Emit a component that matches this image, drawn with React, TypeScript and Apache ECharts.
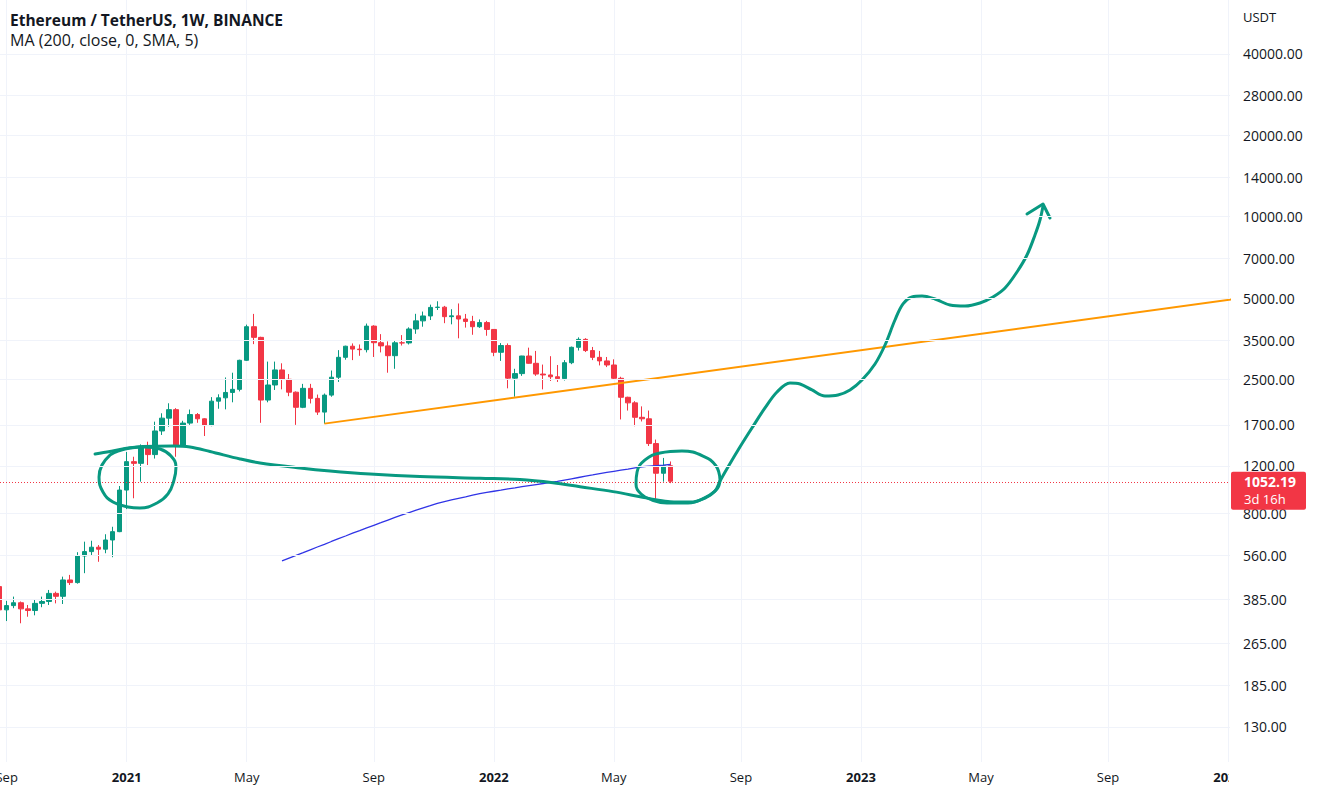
import React, { useEffect, useRef } from 'react';
import * as echarts from 'echarts';

// ---------- data ----------
const WEEKS = [
  '2020-08-31','2020-09-07','2020-09-14','2020-09-21','2020-09-28','2020-10-05','2020-10-12','2020-10-19','2020-10-26',
  '2020-11-02','2020-11-09','2020-11-16','2020-11-23','2020-11-30','2020-12-07','2020-12-14','2020-12-21','2020-12-28',
  '2021-01-04','2021-01-11','2021-01-18','2021-01-25','2021-02-01','2021-02-08','2021-02-15','2021-02-22','2021-03-01',
  '2021-03-08','2021-03-15','2021-03-22','2021-03-29','2021-04-05','2021-04-12','2021-04-19','2021-04-26','2021-05-03',
  '2021-05-10','2021-05-17','2021-05-24','2021-05-31','2021-06-07','2021-06-14','2021-06-21','2021-06-28','2021-07-05',
  '2021-07-12','2021-07-19','2021-07-26','2021-08-02','2021-08-09','2021-08-16','2021-08-23','2021-08-30','2021-09-06',
  '2021-09-13','2021-09-20','2021-09-27','2021-10-04','2021-10-11','2021-10-18','2021-10-25','2021-11-01','2021-11-08',
  '2021-11-15','2021-11-22','2021-11-29','2021-12-06','2021-12-13','2021-12-20','2021-12-27','2022-01-03','2022-01-10',
  '2022-01-17','2022-01-24','2022-01-31','2022-02-07','2022-02-14','2022-02-21','2022-02-28','2022-03-07','2022-03-14',
  '2022-03-21','2022-03-28','2022-04-04','2022-04-11','2022-04-18','2022-04-25','2022-05-02','2022-05-09','2022-05-16',
  '2022-05-23','2022-05-30','2022-06-06','2022-06-13','2022-06-20','2022-06-27'
];
const OPEN = [
  429,352,365,374,355,350,372,378,405,395,454,444,557,578,600,590,638,685,
  976,1243,1225,1400,1320,1614,1800,1935,1416,1726,1856,1790,1690,2080,2140,2240,2300,2945,3920,3580,2100,2387,2713,2506,
  2245,1974,2320,2130,1895,2190,2550,3021,3320,3240,3225,3940,3421,3330,3063,3418,3414,3845,4120,4296,4620,4630,4270,4300,
  4186,4100,3920,4060,
  3830,3153,3340,2530,2630,3055,2871,2620,2600,2560,2520,2886,3290,3520,3200,3020,2930,2830,2527,2150,2050,1813,1790,1450,
  1126,1200
];
const CLOSE = [
  352,365,374,355,350,372,378,405,395,454,444,557,578,600,590,638,685,976,
  1243,1225,1400,1320,1614,1800,1935,1416,1726,1856,1790,1690,2080,2140,2240,2300,2945,3920,3580,2100,2387,2713,2506,2245,
  1974,2320,2130,1895,2190,2550,3021,3320,3240,3225,3940,3421,3330,3063,3418,3414,3845,4120,4296,4620,4630,4270,4300,4186,
  4100,3920,4060,3830,
  3153,3340,2530,2630,3055,2871,2620,2600,2560,2520,2886,3290,3520,3200,3020,2930,2830,2527,2150,2050,1813,1790,1450,1126,
  1200,1052.19
];
const HIGH = [
  488,380,394,378,367,385,394,417,411,467,474,575,629,634,611,670,714,1010,
  1350,1296,1440,1473,1747,1876,2043,1960,1760,1937,1880,1800,2153,2205,2545,2650,2960,3990,4372,3600,2913,2913,2871,2620,
  2260,2410,2410,2200,2220,2700,3211,3335,3400,3370,4027,3970,3680,3460,3470,3650,3900,4375,4460,4730,4868,4680,4550,4778,
  4370,4300,4170,4120,
  3840,3410,3400,2740,3060,3280,3190,2840,3050,2830,2950,3310,3580,3555,3300,3190,3030,2970,2560,2160,2080,1990,1920,1500,
  1283,1245
];
const LOW = [
  308,320,357,314,332,336,360,367,372,370,435,440,481,561,530,570,551,682,
  830,910,1048,1208,1276,1560,1674,1296,1430,1700,1730,1546,1680,1950,1940,2060,2260,2930,3380,1730,2060,2288,2300,2170,
  1700,1960,2040,1850,1718,2160,2450,2960,2950,3060,3150,3030,3150,2650,2740,3340,3370,3690,3920,4150,4520,4040,4000,3552,
  3890,3660,3880,3630,
  3050,2930,2320,2160,2580,2860,2580,2300,2470,2450,2480,2850,3200,3160,2950,2820,2780,2510,1780,1920,1680,1750,1420,897,
  1048,1035
];
// MA(200) values, one per week starting 2021-06-07
const MA_START = '2021-06-07';
const MA200 = [
  534,547,560,573,587,601,615,630,645,660,676,691,707,723,739,756,773,790,806,822,838,854,871,885,897,909,921,934,947,957,
  966,975,985,994,1005,1014,1023,1032,1041,1050,1062,1074,1086,1098,1110,1123,1134,1145,1156,1167,1179,1190,1196,1202,1207,1213
];
const LAST_PRICE = 1052.19;
const COUNTDOWN = '3d 16h';

// Orange trend line anchors [date, price]
const TREND = [['2021-07-19', 1718], ['2024-03-04', 5300]] as [string, number][];

// Hand drawings: [weeks after 2021-01-04, price]
const DRAW_ORIGIN = '2021-01-04';
const CURVE = [
  [-4.48,1327],[-2.37,1355],[-0.24,1390],[2.31,1414],[6.56,1420],[8.97,1408],[11.8,1355],[16.05,1272],[18.88,1229],
  [24.55,1178],[28.8,1148],[34.46,1119],[41.54,1095],[50.04,1079],[55.71,1068],[60.38,1039],[64.21,1004],[68.88,963],
  [72.71,922],[75.12,897],[76.96,884],[79.79,881],[81.92,912],[83.33,968],[84.04,1054],[85.17,1188],[86.86,1408],
  [88.56,1655],[90.41,1963],[92.11,2249],[93.95,2428],[95.37,2407],[97.07,2288],[98.91,2174],[100.75,2192],[102.45,2288],
  [104.15,2490],[105.99,2854],[107.41,3355],[108.82,4151],[109.96,4757],[111.23,5048],[112.65,5091],[114.49,4963],
  [116.61,4716],[118.74,4676],[120.86,4797],[122.7,5048],[124.41,5450],[126.1,6246],[127.52,7218],[128.65,8558],
  [129.36,9723],[129.79,10955]
];
const ARROW = [[127.52,10233],[129.79,11143],[130.78,9890]];
const CIRCLE_2021 = [
  [-2.37,1315],[-3.5,1208],[-3.92,1091],[-3.36,960],[-1.94,881],[0.18,845],[1.88,838],[4.29,874],[5.85,944],
  [6.7,1063],[6.98,1188],[6.27,1304],[4.72,1384],[2.59,1408],[0.47,1396],[-1.23,1361],[-2.37,1315]
];
const CIRCLE_2022 = [
  [84.04,1063],[83.47,1198],[81.63,1304],[78.65,1361],[75.54,1338],[73.42,1261],[72.29,1138],[72.14,1027],[72.85,944],
  [74.41,897],[76.53,874],[79.51,874],[82.06,920],[83.61,985],[84.04,1063]
];

const X_TICKS = ['2020-09-07','2021-01-04','2021-05-03','2021-09-06','2022-01-03','2022-05-02','2022-09-05',
  '2023-01-02','2023-05-01','2023-09-04','2024-01-01'];
const Y_TICKS = [130,185,265,385,560,800,1200,1700,2500,3500,5000,7000,10000,14000,20000,28000,40000];
const MONTHS = ['Jan','Feb','Mar','Apr','May','Jun','Jul','Aug','Sep','Oct','Nov','Dec'];

// ---------- layout / style ----------
const DAY = 86400000;
const toTime = (s: string) => Date.parse(s + 'T00:00:00Z');
const lg = Math.log10;
const PX_PER_DAY = 7.06 / 7;
const PLOT_W = 1230;
const PLOT_H = 762;
const X_MIN = toTime('2021-01-04') - (126.7 / PX_PER_DAY) * DAY;
const X_MAX = X_MIN + (PLOT_W / PX_PER_DAY) * DAY;
const Y_MAX = 1298.7 / 270.5;
const Y_MIN = (1298.7 - PLOT_H) / 270.5;
const FONT = '"Open Sans", "Noto Sans", sans-serif';
const TXT = '#131722';
const GRID = '#f0f3fa';
const UP = '#089981';
const DOWN = '#f23645';
const DRAW_GREEN = '#089981';

const drawPts = (pts: number[][]) =>
  pts.map(([w, p]) => [toTime(DRAW_ORIGIN) + w * 7 * DAY, lg(p)]);

export default function App() {
  const ref = useRef<HTMLDivElement>(null);
  useEffect(() => {
    if (!ref.current) return;
    const chart = echarts.init(ref.current, null, { renderer: 'svg' });
    const drawLine = (name: string, pts: number[][], smooth: number | boolean) => ({
      name, type: 'line', data: drawPts(pts), showSymbol: false, symbol: 'none', smooth,
      silent: true, z: 6,
      lineStyle: { color: DRAW_GREEN, width: 3, cap: 'round', join: 'round' },
    });
    const option: any = {
      animation: false,
      backgroundColor: '#ffffff',
      textStyle: { fontFamily: FONT },
      title: [
        {
          text: 'Ethereum / TetherUS, 1W, BINANCE',
          subtext: 'MA (200, close, 0, SMA, 5)',
          left: 10, top: 12, padding: 0, itemGap: 4,
          textStyle: { fontSize: 15.5, fontWeight: 'bold', color: TXT, fontFamily: FONT },
          subtextStyle: { fontSize: 16, color: TXT, fontFamily: FONT },
        },
        {
          text: 'USDT', left: 1243, top: 10, padding: 0,
          textStyle: { fontSize: 13, fontWeight: 'normal', color: TXT, fontFamily: FONT },
        },
      ],
      grid: { left: 0, top: 0, width: PLOT_W, height: PLOT_H, containLabel: false, outerBoundsMode: 'none' },
      xAxis: {
        type: 'value', min: X_MIN, max: X_MAX, z: 0, scale: true,
        axisLine: { show: false },
        axisTick: { show: false, customValues: X_TICKS.map(toTime) },
        splitLine: { show: true, lineStyle: { color: GRID, width: 1 } },
        axisLabel: {
          customValues: X_TICKS.map(toTime),
          color: TXT, fontSize: 13, margin: 8, fontFamily: FONT, hideOverlap: false,
          formatter: (v: number) => {
            const d = new Date(v);
            const m = d.getUTCMonth();
            return m === 0 ? `{b|${d.getUTCFullYear()}}` : MONTHS[m];
          },
          rich: { b: { fontWeight: 'bold', fontSize: 13, color: TXT, fontFamily: FONT } },
        },
      },
      yAxis: {
        type: 'value', position: 'right', min: Y_MIN, max: Y_MAX, z: 10, scale: true,
        axisLine: { show: false },
        axisTick: { show: false, customValues: Y_TICKS.map(lg) },
        splitLine: { show: true, lineStyle: { color: GRID, width: 1 } },
        axisLabel: {
          customValues: Y_TICKS.map(lg),
          align: 'left', margin: 13, color: TXT, fontSize: 14, fontFamily: FONT,
          formatter: (v: number) => Math.round(Math.pow(10, v)).toFixed(2),
        },
      },
      series: [
        {
          name: 'ETHUSDT', type: 'candlestick', barWidth: 5, z: 2,
          data: WEEKS.map((w, i) => [toTime(w), lg(OPEN[i]), lg(CLOSE[i]), lg(LOW[i]), lg(HIGH[i])]),
          itemStyle: { color: UP, color0: DOWN, borderColor: UP, borderColor0: DOWN, borderWidth: 1 },
          markLine: {
            silent: true, symbol: ['none', 'none'], label: { show: false },
            lineStyle: { color: DOWN, type: [1, 2], width: 1 },
            data: [{ yAxis: lg(LAST_PRICE) }],
          },
        },
        {
          name: 'MA', type: 'line', showSymbol: false, symbol: 'none', silent: true, z: 4,
          data: MA200.map((v, i) => [toTime(MA_START) + i * 7 * DAY, lg(v)]),
          lineStyle: { color: '#3034e6', width: 1.3 },
        },
        {
          name: 'Trend', type: 'line', showSymbol: false, symbol: 'none', silent: true, z: 5,
          data: TREND.map(([d, p]) => [toTime(d), lg(p)]),
          lineStyle: { color: '#ff9800', width: 2 },
        },
        drawLine('curve', CURVE, 0.35),
        drawLine('circle2021', CIRCLE_2021, 0.45),
        drawLine('circle2022', CIRCLE_2022, 0.45),
        drawLine('arrow', ARROW, false),
      ],
      graphic: [
        { type: 'rect', id: 'scaleBg', shape: { x: PLOT_W - 1, y: 0, width: 1320 - PLOT_W, height: 794 },
          style: { fill: '#ffffff' }, z: 5, silent: true },
      ],
    };
    chart.setOption(option);
    const py = chart.convertToPixel({ yAxisIndex: 0 }, lg(LAST_PRICE)) as number;
    chart.setOption({
      graphic: [
        { type: 'rect', id: 'scaleBg', shape: { x: PLOT_W - 1, y: 0, width: 1320 - PLOT_W, height: 794 },
          style: { fill: '#ffffff' }, z: 5, silent: true },
        { type: 'rect', id: 'tagBg', shape: { x: PLOT_W + 1, y: py - 9.5, width: 75, height: 38, r: 2 },
          style: { fill: DOWN }, z: 20, silent: true },
        { type: 'text', id: 'tagPrice', x: 1244, y: py + 0.5, z: 21, silent: true,
          style: { text: LAST_PRICE.toFixed(2), fill: '#ffffff', fontSize: 14, fontWeight: 'bold',
            fontFamily: FONT, verticalAlign: 'middle', align: 'left' } },
        { type: 'text', id: 'tagTime', x: 1244, y: py + 17.5, z: 21, silent: true,
          style: { text: COUNTDOWN, fill: '#ffffff', fontSize: 13, fontFamily: FONT,
            verticalAlign: 'middle', align: 'left' } },
      ],
    });
    return () => chart.dispose();
  }, []);
  return (
    <div
      ref={ref}
      style={{ position: 'fixed', left: 0, top: 0, width: 1318, height: 794, background: '#ffffff' }}
    />
  );
}
